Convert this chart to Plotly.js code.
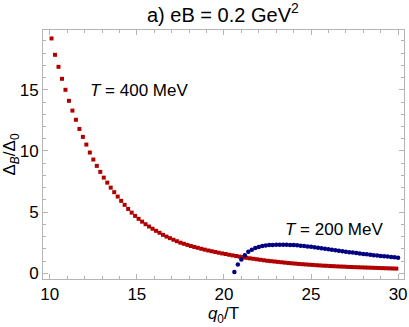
<!DOCTYPE html>
<html>
<head>
<meta charset="utf-8">
<script src="https://cdn.plot.ly/plotly-3.0.1.min.js"></script>
<style>
  html, body { margin: 0; padding: 0; background: #fff; }
  #plot { width: 409px; height: 327px; }
</style>
</head>
<body>
<div id="plot"></div>
<script>
// T = 400 MeV (red squares), q0/T from 10.1 in steps of 0.2
var q400 = [];
for (var i = 0; i < 100; i++) q400.push(+(10.1 + 0.2 * i).toFixed(2));
var gap400 = [
  19.2, 17.86, 16.88, 15.9, 15.0, 14.1, 13.3, 12.55, 11.8, 11.15,
  10.52, 9.87, 9.3, 8.78, 8.29, 7.82, 7.41, 7.0, 6.63, 6.27,
  5.92, 5.59, 5.26, 4.96, 4.69, 4.45, 4.22, 4.01, 3.82, 3.64,
  3.47, 3.31, 3.14, 3.0, 2.87, 2.74, 2.62, 2.5, 2.41, 2.32,
  2.23, 2.15, 2.08, 2.0, 1.93, 1.86, 1.8, 1.74, 1.68, 1.62,
  1.57, 1.51, 1.46, 1.41, 1.36, 1.31, 1.26, 1.22, 1.18, 1.14,
  1.10, 1.06, 1.02, 0.99, 0.96, 0.93, 0.9, 0.87, 0.84, 0.81,
  0.79, 0.76, 0.74, 0.72, 0.70, 0.68, 0.66, 0.64, 0.62, 0.61,
  0.59, 0.58, 0.56, 0.55, 0.54, 0.52, 0.51, 0.50, 0.49, 0.48,
  0.47, 0.46, 0.45, 0.44, 0.43, 0.42, 0.41, 0.40, 0.39, 0.38
];

// T = 200 MeV (blue dots), q0/T from 20.6 in steps of 0.2
var q200 = [];
for (var j = 0; j < 48; j++) q200.push(+(20.6 + 0.2 * j).toFixed(2));
var gap200 = [
  0.1, 0.72, 1.12, 1.48, 1.75, 1.93, 2.06, 2.15, 2.22, 2.27,
  2.3, 2.32, 2.33, 2.34, 2.34, 2.33, 2.32, 2.30, 2.28, 2.25,
  2.22, 2.19, 2.16, 2.12, 2.08, 2.04, 2.0, 1.96, 1.92, 1.88,
  1.84, 1.80, 1.76, 1.72, 1.69, 1.65, 1.62, 1.58, 1.55, 1.51,
  1.48, 1.45, 1.42, 1.39, 1.36, 1.33, 1.30, 1.27
];

var xTicks = [10, 15, 20, 25, 30];
var yTicks = [0, 5, 10, 15];

var frame = "#b4b4b4";
var font = "Liberation Sans, Arial, sans-serif";

var red = {
  x: q400, y: gap400, type: "scatter", mode: "markers",
  marker: {symbol: "square", size: 4, color: "#b00000"},
  hoverinfo: "x+y"
};
var blue = {
  x: q200, y: gap200, type: "scatter", mode: "markers",
  marker: {symbol: "circle", size: 4.5, color: "#000080"},
  hoverinfo: "x+y"
};

var axisStyle = {
  showgrid: false, zeroline: false,
  showline: true, linecolor: frame, linewidth: 1, mirror: "ticks",
  ticks: "inside", ticklen: 5, tickcolor: frame, tickwidth: 1,
  minor: {ticks: "inside", ticklen: 3, tickcolor: frame, dtick: 1, showgrid: false},
  tickfont: {family: font, size: 17, color: "#000"}
};

var layout = {
  width: 409, height: 327,
  margin: {l: 43, r: 5, t: 30, b: 48},
  paper_bgcolor: "#fff", plot_bgcolor: "#fff",
  showlegend: false,
  font: {family: font, color: "#000"},
  title: {
    text: "a) eB = 0.2 GeV<sup>2</sup>",
    font: {family: font, size: 20, color: "#000"},
    x: 0.545, xanchor: "center", y: 0.955, yanchor: "middle", yref: "container"
  },
  xaxis: Object.assign({}, axisStyle, {
    range: [9.61, 30.34], tickvals: xTicks,
    title: {text: "<i>q</i><sub>0</sub>/T", font: {family: font, size: 17}, standoff: 3}
  }),
  yaxis: Object.assign({}, axisStyle, {
    range: [-0.47, 19.89], tickvals: yTicks,
    title: {text: "Δ<sub><i>B</i></sub>/Δ<sub>0</sub>", font: {family: font, size: 17}, standoff: 1}
  }),
  annotations: [
    {x: 12.18, y: 14.94, xanchor: "left", yanchor: "middle", showarrow: false,
     text: "<i>T</i> = 400 MeV", font: {family: font, size: 17, color: "#000"}},
    {x: 23.37, y: 3.54, xanchor: "left", yanchor: "middle", showarrow: false,
     text: "<i>T</i> = 200 MeV", font: {family: font, size: 17, color: "#000"}}
  ]
};

Plotly.newPlot("plot", [red, blue], layout, {displayModeBar: false, staticPlot: true});
</script>
</body>
</html>
